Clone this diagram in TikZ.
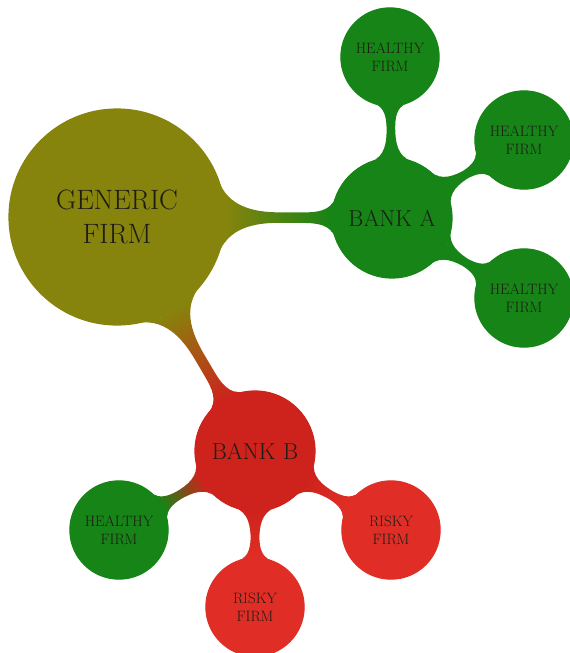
\documentclass[tikz,border=0pt]{standalone}
\usetikzlibrary{mindmap}
\definecolor{olivef}{RGB}{134,132,12}
\definecolor{greenf}{RGB}{22,132,22}
\definecolor{redb}{RGB}{205,35,28}
\definecolor{redr}{RGB}{224,46,38}
\definecolor{txt}{RGB}{30,28,22}
\begin{document}
\begin{tikzpicture}[x=1pt,y=-1pt,mindmap,
  conc/.style={concept, circle, inner sep=0pt, align=center, text=txt},
  big/.style={minimum size=216pt, text width=190pt, font=\fontsize{28}{34}\selectfont},
  mid/.style={minimum size=120pt, text width=116pt, font=\fontsize{23}{27}\selectfont},
  small/.style={minimum size=96pt, text width=94pt, font=\fontsize{15}{18}\selectfont},
  bar/.style={line width=12pt}]
\useasboundingbox (0,0) rectangle (570,653);
\node[conc, big, concept color=olivef] (gf) at (117,217) {GENERIC\\FIRM};
\node[conc, mid, concept color=greenf] (ba) at (392,218) {BANK A};
\node[conc, small, concept color=greenf] (h1) at (390,57) {HEALTHY\\FIRM};
\node[conc, small, concept color=greenf] (h2) at (524,140) {HEALTHY\\FIRM};
\node[conc, small, concept color=greenf] (h3) at (524,298) {HEALTHY\\FIRM};
\node[conc, mid, concept color=redb] (bb) at (255,451) {BANK B};
\node[conc, small, concept color=greenf] (h4) at (119,530) {HEALTHY\\FIRM};
\node[conc, small, concept color=redr] (r1) at (391,530) {RISKY\\FIRM};
\node[conc, small, concept color=redr] (r2) at (255,607) {RISKY\\FIRM};
\path[bar] (gf) to[circle connection bar switch color=from (olivef) to (greenf)] (ba);
\path[bar] (gf) to[circle connection bar switch color=from (olivef) to (redb)] (bb);
\path[bar] (ba) to[circle connection bar switch color=from (greenf) to (greenf)] (h1);
\path[bar] (ba) to[circle connection bar switch color=from (greenf) to (greenf)] (h2);
\path[bar] (ba) to[circle connection bar switch color=from (greenf) to (greenf)] (h3);
\path[bar] (bb) to[circle connection bar switch color=from (redb) to (greenf)] (h4);
\path[bar] (bb) to[circle connection bar switch color=from (redb) to (redr)] (r1);
\path[bar] (bb) to[circle connection bar switch color=from (redb) to (redr)] (r2);
\end{tikzpicture}
\end{document}
